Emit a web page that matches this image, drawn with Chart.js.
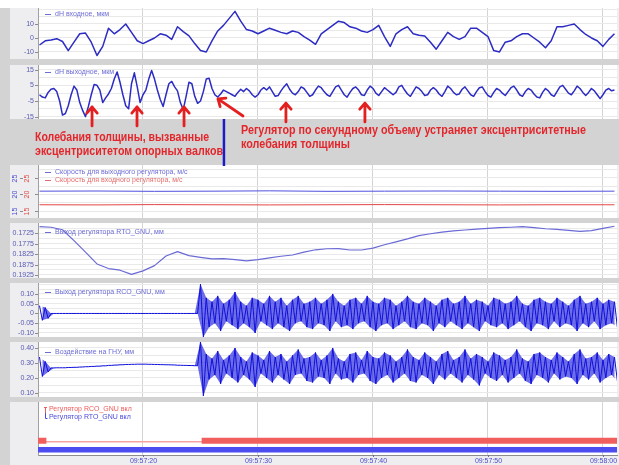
<!DOCTYPE html>
<html><head><meta charset="utf-8">
<script src="https://cdn.jsdelivr.net/npm/chart.js@4.4.1/dist/chart.umd.min.js"></script>
<style>
  html,body{margin:0;padding:0}
  body{width:619px;height:465px;background:#d3d3d3;position:relative;overflow:hidden}
  .p{position:absolute;left:10px}
  #cap{position:absolute;left:0;top:0;width:619px;height:8px;background:#fff}
  #ann,#txt{position:absolute;left:0;top:0}
  #txt text{fill:#e3262b;font-weight:bold;font-size:13px;font-family:"Liberation Sans Narrow","Arial Narrow","Liberation Sans",Arial,sans-serif}
</style></head>
<body>
<div id="cap"></div>
<canvas class="p" id="c1" width="609" height="51" style="top:8px"></canvas>
<canvas class="p" id="c2" width="609" height="54" style="top:65px"></canvas>
<canvas class="p" id="c3" width="609" height="53" style="top:165px"></canvas>
<canvas class="p" id="c4" width="609" height="55" style="top:223px"></canvas>
<canvas class="p" id="c5" width="609" height="54" style="top:283px"></canvas>
<canvas class="p" id="c6" width="609" height="55" style="top:342px"></canvas>
<canvas class="p" id="c7" width="609" height="63" style="top:402px"></canvas>
<svg id="txt" width="619" height="465">
  <text x="35" y="140.5" textLength="174" lengthAdjust="spacingAndGlyphs">Колебания толщины, вызванные</text>
  <text x="35" y="154.5" textLength="188" lengthAdjust="spacingAndGlyphs">эксцентриситетом опорных валков</text>
  <text x="241" y="133.5" textLength="345" lengthAdjust="spacingAndGlyphs">Регулятор по секундному объему устраняет эксцентриситетные</text>
  <text x="241" y="147.5" textLength="109" lengthAdjust="spacingAndGlyphs">колебания толщины</text>
</svg>
<canvas id="ann" width="619" height="465"></canvas>
<script>
// time in seconds after 09:57:00
const tMin = 10.87, tMax = 61.22;
const timeTicks = [20, 30, 40, 50, 60];
const timeLabels = ['09:57:20', '09:57:30', '09:57:40', '09:57:50', '09:58:00'];

// dH входное, every 0.5 s from t=11
const dhIn = [-5,-2,-1.5,-0.5,-2.5,-9,-3,3,3.5,-3,-12.5,-6,7,3,6,10,4,-2,-4,-2,
  0,3,2,-1,8,4.5,1.5,-4,-9,-10,-2,5,9,14,19,12,6,5,3,5,
  7,5.5,4,3,5,4,1,-1.5,-4.5,3,6,9,12,11,8,7,5,4,6,9,
  1,-6,3,6,8,3,2,1.5,-3,-8,-2,4,1,-1,1,7,7,4,1,-9,
  -10,-3,-2,1,3,3,0,-3,-7,-2,8,8,9,10,6,2.5,0,-2,-6,-1,3];

// dH выходное, every 0.25 s from t=11
const dhOut = [-1,-2.5,-3,0.5,2.5,3,1,-5,
  -14,-13,-8,-1, 4.5,2,-6,-11, -15,-8.5,-1,5.5, 5,2,-6,-3,
  -0.5,3,9,13.5, 7,-1,-8,-10, 6,13,4,-6, -1,2,9,14.5,
  9,2,-4,-8.5, -1,6,7.5,4, 1.5,-6,-10.5,-2, 7,6,-2,-6.5,
  -5,1,9,9.5, 3,-1,-2.5,-0.5, 2,1,0,-1, -2,0.5,2.5,1,
  3,1.5,-1,-2.5, -1,2,3.5,2, 4,1,-2,-1.5, 1.5,4,6,2.5,
  0,-1,1,4, 3,0.5,-2,-1, 2,4.5,3.5,1, -1,-2,1,4,
  5,2,-1,-2.5, 0.5,3,4,2, -1,-1.5,2,4.5, 3,0,-1.5,1,
  3.5,2,0.5,-1, 0.5,4,5,2, -0.5,-2,1,4, 3,1,-1.5,-1,
  2,3.5,2,-0.5, -2,1,4.5,3, 0.5,-1,-0.5,2.5, 4,1.5,-1,-2,
  1,3.5,4,1, -1.5,-2.5,0.5,3, 2,0,-1.5,1, 3.5,4.5,2,-1,
  -2,1,3,2, -0.5,-2.5,-3,0.5, 3,1.5,-1,-2, 1,4,5,2.5,
  0,-1,1.5,4.5, 3,0.5,-1.5,0.5, 3,1.5,-1,-3.5, -1,2,3,1.5,
  2];

// speeds, every 5 s from t=11
const speedOut = [21.0,21.05,20.95,21.0,21.1,20.95,21.0,21.05,21.0,20.95,21.0];
const speedIn = [16.9,16.85,16.95,16.9,16.85,16.9,16.95,16.9,16.85,16.9,16.9];
const speedTicks = [25, 20, 15];

// Выход регулятора RTO_GNU, every 1 s from t=11
const rtoOut = [0.1693,0.1696,0.1708,0.1760,0.1815,0.1872,0.1894,0.1902,0.1922,0.1905,
  0.1880,0.1834,0.1813,0.1832,0.1840,0.1848,0.1846,0.1851,0.1857,0.1851,
  0.1843,0.1835,0.1829,0.1815,0.1804,0.1799,0.1798,0.1805,0.1805,0.1796,
  0.1780,0.1766,0.1752,0.1736,0.1727,0.1719,0.1713,0.1709,0.1705,0.1701,
  0.1698,0.1696,0.1693,0.1698,0.1703,0.1706,0.1711,0.1716,0.1712,0.1701,0.1691];

// Выход регулятора RCO_GNU, upper/lower excursion every 0.5 s from t=11
const rcoHi = [0.04,0.03,
  0,0,0,0,0,0,0,0,0,0,0,0,0,0,0,0,0,0,0,0,0,0,0,0,0,0,
  0.15,
  0.08,0.06,0.09,0.05,0.07,0.11,0.06,0.04, 0.08,0.07,0.05,0.09,0.06,0.08,0.04,0.07,
  0.09,0.05,0.06,0.08,0.05,0.07,0.10,0.06, 0.04,0.07,0.08,0.05,0.09,0.06,0.05,0.08,
  0.07,0.04,0.06,0.09,0.06,0.05,0.08,0.06, 0.04,0.07,0.08,0.05,0.06,0.09,0.05,0.07,
  0.06,0.04,0.08,0.07,0.05,0.06,0.09,0.05, 0.04,0.07,0.08,0.06,0.05,0.08,0.06,0.04,
  0.07,0.09,0.05,0.06,0.08,0.05,0.07,0.06];
const rcoLo = [-0.035,-0.025,
  0,0,0,0,0,0,0,0,0,0,0,0,0,0,0,0,0,0,0,0,0,0,0,0,0,0,
  -0.12,
  -0.07,-0.05,-0.09,-0.04,-0.06,-0.08,-0.05,-0.07, -0.10,-0.04,-0.06,-0.08,-0.05,-0.07,-0.09,-0.05,
  -0.04,-0.07,-0.08,-0.05,-0.06,-0.09,-0.04,-0.07, -0.06,-0.08,-0.05,-0.04,-0.07,-0.09,-0.06,-0.05,
  -0.08,-0.06,-0.04,-0.07,-0.08,-0.05,-0.06,-0.09, -0.05,-0.07,-0.04,-0.06,-0.08,-0.05,-0.07,-0.09,
  -0.04,-0.06,-0.07,-0.05,-0.08,-0.06,-0.04,-0.07, -0.09,-0.05,-0.06,-0.08,-0.04,-0.07,-0.05,-0.06,
  -0.09,-0.05,-0.07,-0.04,-0.08,-0.06,-0.05,-0.07];

// Воздействие на ГНУ, every 0.5 s from t=11
const ghnuFlat = [0.267,0.268,0.268,0.270,0.271,0.273,0.275,0.277,0.279,0.281,
  0.284,0.286,0.288,0.290,0.291,0.292,0.292,0.291,0.290,0.289,
  0.288,0.287,0.285,0.284,0.283,0.282];
const ghnuHi = [0.34,0.31, ...ghnuFlat, 0.44,
  0.36,0.33,0.38,0.32,0.35,0.40,0.34,0.31, 0.37,0.35,0.32,0.38,0.34,0.36,0.31,0.35,
  0.39,0.33,0.34,0.37,0.32,0.35,0.40,0.33, 0.31,0.36,0.37,0.32,0.38,0.34,0.33,0.37,
  0.35,0.31,0.34,0.39,0.34,0.32,0.37,0.34, 0.31,0.36,0.38,0.32,0.34,0.39,0.33,0.36,
  0.34,0.31,0.37,0.35,0.32,0.34,0.39,0.33, 0.31,0.36,0.37,0.34,0.32,0.37,0.34,0.31,
  0.36,0.39,0.33,0.34,0.37,0.32,0.36,0.34];
const ghnuLo = [0.21,0.24, ...ghnuFlat, 0.08,
  0.19,0.22,0.16,0.23,0.20,0.17,0.22,0.19, 0.14,0.23,0.20,0.17,0.22,0.19,0.16,0.22,
  0.23,0.18,0.17,0.21,0.20,0.16,0.23,0.19, 0.20,0.17,0.22,0.23,0.18,0.16,0.20,0.22,
  0.17,0.20,0.23,0.18,0.17,0.22,0.20,0.16, 0.22,0.19,0.23,0.20,0.17,0.22,0.19,0.15,
  0.23,0.20,0.18,0.22,0.17,0.20,0.23,0.18, 0.16,0.22,0.20,0.17,0.23,0.19,0.21,0.20,
  0.16,0.22,0.19,0.23,0.17,0.20,0.22,0.18];

// регуляторы включены (start, end in s)
const rcoOnSpans = [[10.87, 11.6], [25.1, 61.22]];
const rtoOnSpans = [[10.87, 61.22]];
const rcoTrack = 0.27, rtoTrack = 0.1;

// red arrows (panel 2 units) and cursor
const arrowTailT = [15.57, 19.48, 23.57, 28.7, 32.43, 39.3];
const arrowTailV = [-20.9, -20.9, -20.9, -14.6, -18.4, -18.4];
const arrowTipT = [15.57, 19.48, 23.57, 26.52, 32.43, 39.3];
const arrowTipV = [-8.8, -8.8, -8.8, -3.7, -6.3, -6.3];
const cursorT = 27.04;

const series = (vals, t0, dt) => vals.map((v, i) => ({ x: t0 + i * dt, y: v }));
const zigzag = (hi, lo, t0, dt) => hi.flatMap((h, i) => [{ x: t0 + i * dt, y: h }, { x: t0 + i * dt + dt / 2, y: lo[i] }]);
const spans = (list, level) => list.flatMap(([a, b]) => [{ x: a, y: level }, { x: b, y: level }, { x: b, y: null }]);

const FONT = '7px "Liberation Sans", Arial, sans-serif';
const LEG = '#6c6cd6';

function panelDeco(o) {
  return {
    id: 'deco',
    beforeDraw(c) {
      const { ctx, chartArea: a } = c;
      ctx.save();
      ctx.fillStyle = '#eeeef0';
      ctx.fillRect(0, 0, c.width, c.height);
      ctx.fillStyle = '#fff';
      ctx.fillRect(a.left, a.top, a.right - a.left, a.bottom - a.top);
      ctx.restore();
    },
    afterDraw(c) {
      const { ctx, chartArea: a, scales } = c;
      ctx.save();
      ctx.font = FONT;
      ctx.textBaseline = 'middle';
      ctx.lineWidth = 1;
      if (o.yLabels) {
        ctx.textAlign = 'right';
        o.yLabels.forEach(v => {
          const y = Math.round(scales.y.getPixelForValue(v)) + 0.5;
          ctx.strokeStyle = '#8c8c8c';
          ctx.beginPath(); ctx.moveTo(a.left - 3, y); ctx.lineTo(a.left, y); ctx.stroke();
          ctx.fillStyle = '#5a5ab6';
          ctx.fillText(o.fmt(v), a.left - 4, y);
        });
      }
      (o.legend || []).forEach((l, i) => {
        const y = a.top + o.legendY + i * 8;
        ctx.strokeStyle = l.color;
        ctx.beginPath(); ctx.moveTo(a.left + 7, y + 0.5); ctx.lineTo(a.left + 13, y + 0.5); ctx.stroke();
        ctx.fillStyle = l.color; ctx.textAlign = 'left';
        ctx.fillText(l.text, a.left + 17, y);
      });
      if (o.extra) o.extra(c);
      ctx.restore();
    }
  };
}

function makeChart(id, datasets, y, deco, xAxisH = 0) {
  return new Chart(document.getElementById(id), {
    type: 'line',
    data: { datasets },
    options: {
      responsive: false, animation: false, events: [],
      layout: { padding: { right: 2 } },
      plugins: { legend: { display: false }, tooltip: { enabled: false } },
      elements: { point: { radius: 0 }, line: { tension: 0, borderJoinStyle: 'round' } },
      scales: {
        x: {
          type: 'linear', min: tMin, max: tMax,
          afterBuildTicks: s => { s.ticks = timeTicks.map(v => ({ value: v })); },
          afterFit: s => { s.height = xAxisH; },
          ticks: { display: false },
          grid: { color: '#d4d4d4', drawTicks: false },
          border: { display: xAxisH > 0, color: '#8c8c8c' }
        },
        y: {
          type: 'linear', min: y.min, max: y.max, reverse: !!y.reverse,
          afterBuildTicks: s => { s.ticks = y.grid.map(v => ({ value: v })); },
          afterFit: s => { s.width = 28; },
          ticks: { display: false },
          grid: { color: y.gridColor || '#e9e9e9', drawTicks: false },
          border: { color: '#a0a0a0' }
        }
      }
    },
    plugins: [panelDeco(deco)]
  });
}

const line = (data, color, width) => ({ data, borderColor: color, borderWidth: width, spanGaps: false });
// noisy trace: zig-zag between the excursions over a filled envelope
const noisy = (hi, lo) => [
  line(zigzag(hi, lo, 11, 0.5), '#1010dc', 1),
  { data: series(hi, 11, 0.5), borderWidth: 0, borderColor: 'rgba(0,0,0,0)', fill: false },
  { data: series(lo, 11.25, 0.5), borderWidth: 0, borderColor: 'rgba(0,0,0,0)', fill: '-1', backgroundColor: 'rgba(22,22,220,0.62)' }
];

// 1. dH входное
makeChart('c1', [line(series(dhIn, 11, 0.5), '#2c2cc4', 1.5)],
  { min: -15, max: 21.4, grid: [-15, -10, -5, 0, 5, 10, 15, 20] },
  { yLabels: [10, 0, -10], fmt: v => String(v), legendY: 6, legend: [{ text: 'dH входное, мкм', color: LEG }] });

// 2. dH выходное
const chart2 = makeChart('c2', [line(series(dhOut, 11, 0.25), '#2c2cc4', 1.5)],
  { min: -16.5, max: 18, grid: [-15, -10, -5, 0, 5, 10, 15] },
  { yLabels: [15, 5, -5, -15], fmt: v => String(v), legendY: 7, legend: [{ text: 'dH выходное, мкм', color: LEG }] });

// 3. скорости
makeChart('c3', [
    line(series(speedOut, 11, 5), '#5050e0', 1),
    line(series(speedIn, 11, 5), '#e44646', 1)],
  { min: 12.9, max: 28.9, grid: [15, 17.5, 20, 22.5, 25, 27.5] },
  { legendY: 7, legend: [
      { text: 'Скорость для выходного регулятора, м/с', color: LEG },
      { text: 'Скорость для входного регулятора, м/с', color: '#e86a6a' }],
    extra(c) {
      const { ctx, chartArea: a, scales } = c;
      speedTicks.forEach(v => {
        const y = Math.round(scales.y.getPixelForValue(v)) + 0.5;
        ctx.strokeStyle = '#8c8c8c';
        ctx.beginPath(); ctx.moveTo(a.left - 3, y); ctx.lineTo(a.left, y);
        ctx.moveTo(10, y); ctx.lineTo(13, y); ctx.stroke();
        [[5, '#4a4ad0'], [17, '#e04848']].forEach(([x, col]) => {
          ctx.save(); ctx.translate(x, y); ctx.rotate(-Math.PI / 2);
          ctx.fillStyle = col; ctx.textAlign = 'center'; ctx.textBaseline = 'middle';
          ctx.fillText(String(v), 0, 0); ctx.restore();
        });
      });
    } });

// 4. RTO_GNU
makeChart('c4', [line(series(rtoOut, 11, 1), '#6a6ad6', 1.2)],
  { min: 0.16755, max: 0.19394, reverse: true,
    grid: [0.17, 0.1725, 0.175, 0.1775, 0.18, 0.1825, 0.185, 0.1875, 0.19, 0.1925] },
  { yLabels: [0.1725, 0.1775, 0.1825, 0.1875, 0.1925], fmt: v => v.toFixed(4), legendY: 9,
    legend: [{ text: 'Выход регулятора RTO_GNU, мм', color: LEG }] });

// 5. RCO_GNU
makeChart('c5', noisy(rcoHi, rcoLo),
  { min: -0.1205, max: 0.156, grid: [-0.1, -0.075, -0.05, -0.025, 0, 0.025, 0.05, 0.075, 0.1, 0.125, 0.15] },
  { yLabels: [0.1, 0.05, 0, -0.05, -0.1], fmt: v => v === 0 ? '0' : v.toFixed(2), legendY: 9,
    legend: [{ text: 'Выход регулятора RCO_GNU, мм', color: LEG }] });

// 6. Воздействие на ГНУ
makeChart('c6', noisy(ghnuHi, ghnuLo),
  { min: 0.073, max: 0.44, grid: [0.1, 0.15, 0.2, 0.25, 0.3, 0.35, 0.4] },
  { yLabels: [0.4, 0.3, 0.2, 0.1], fmt: v => v.toFixed(2), legendY: 10,
    legend: [{ text: 'Воздействие на ГНУ, мм', color: LEG }] });

// 7. состояние регуляторов (first dataset is drawn on top)
makeChart('c7', [
    { ...line(spans(rtoOnSpans, rtoTrack), '#4c4cf0', 5.5), borderCapStyle: 'butt' },
    { ...line(spans(rcoOnSpans, rcoTrack), '#f15e5e', 6), borderCapStyle: 'butt' },
    line([{ x: tMin, y: rcoTrack - 0.02 }, { x: tMax, y: rcoTrack - 0.02 }], '#f4a4a4', 1.5)],
  { min: 0, max: 1, grid: [0, 1], gridColor: 'rgba(0,0,0,0)' },
  { extra(c) {
      const { ctx, chartArea: a, scales } = c;
      ctx.textAlign = 'left';
      ctx.fillStyle = '#ee5c5c'; ctx.fillText('Регулятор RCO_GNU вкл', a.left + 11, a.top + 7);
      ctx.fillStyle = '#4c4cdc'; ctx.fillText('Регулятор RTO_GNU вкл', a.left + 11, a.top + 15);
      ctx.strokeStyle = '#ee5c5c';
      ctx.beginPath(); ctx.moveTo(a.left + 6, a.top + 5.5); ctx.lineTo(a.left + 9, a.top + 5.5);
      ctx.moveTo(a.left + 7.5, a.top + 5.5); ctx.lineTo(a.left + 7.5, a.top + 11); ctx.stroke();
      ctx.strokeStyle = '#4c4cdc';
      ctx.beginPath(); ctx.moveTo(a.left + 7.5, a.top + 11); ctx.lineTo(a.left + 7.5, a.top + 16.5);
      ctx.lineTo(a.left + 9.5, a.top + 16.5); ctx.stroke();
      ctx.textAlign = 'center';
      timeTicks.forEach((v, i) => {
        const x = Math.round(scales.x.getPixelForValue(v)) + 0.5;
        ctx.strokeStyle = '#6a6a9a';
        ctx.beginPath(); ctx.moveTo(x, a.bottom); ctx.lineTo(x, a.bottom + 2); ctx.stroke();
        ctx.fillStyle = '#4a4acc';
        ctx.fillText(timeLabels[i], x, a.bottom + 6.5);
      });
    } }, 10);

// annotation arrows and cursor
const g = document.getElementById('ann').getContext('2d');
const toPage = (t, v) => [10 + chart2.scales.x.getPixelForValue(t), 65 + chart2.scales.y.getPixelForValue(v)];
function arrow(x1, y1, x2, y2) {
  const ang = Math.atan2(y2 - y1, x2 - x1), h = 8;
  g.beginPath();
  g.moveTo(x1, y1); g.lineTo(x2, y2);
  g.moveTo(x2 - h * Math.cos(ang - 0.7), y2 - h * Math.sin(ang - 0.7));
  g.lineTo(x2, y2);
  g.lineTo(x2 - h * Math.cos(ang + 0.7), y2 - h * Math.sin(ang + 0.7));
  g.stroke();
}
g.strokeStyle = '#e41f1f'; g.lineWidth = 2.8; g.lineCap = 'round'; g.lineJoin = 'round';
arrowTipT.forEach((t, i) => {
  const [x1, y1] = toPage(arrowTailT[i], arrowTailV[i]);
  const [x2, y2] = toPage(t, arrowTipV[i]);
  arrow(x1, y1, x2, y2);
});
const cx = 10 + chart2.scales.x.getPixelForValue(cursorT);
g.strokeStyle = '#1c1cc4'; g.lineWidth = 2.5; g.lineCap = 'butt';
g.beginPath(); g.moveTo(cx, 119); g.lineTo(cx, 166); g.stroke();
</script>
</body></html>
